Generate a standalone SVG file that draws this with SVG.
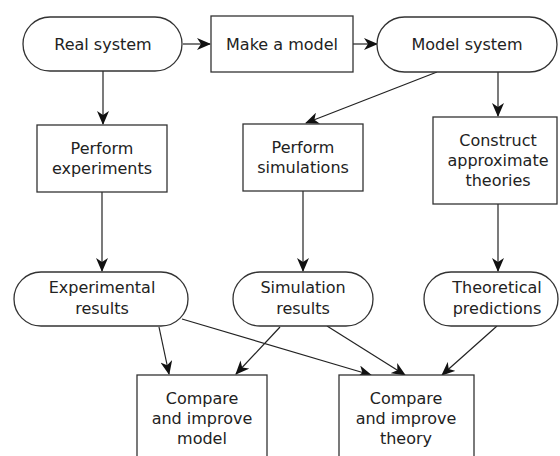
<svg xmlns="http://www.w3.org/2000/svg" width="560" height="456" viewBox="0 0 560 456">
<defs>
<marker id="ah" viewBox="0 0 14 12" refX="13" refY="6" markerWidth="14" markerHeight="12" markerUnits="userSpaceOnUse" orient="auto">
<path d="M0,0 L14,6 L0,12 L4,6 z" fill="#111"/>
</marker>
<style>
.n{fill:#fff;stroke:#333;stroke-width:1.3}
.t{font-family:"DejaVu Sans",sans-serif;font-size:16px;fill:#222;text-anchor:middle}
.c{fill:none;stroke:#222;stroke-width:1.2;marker-end:url(#ah)}
</style>
</defs>
<rect width="560" height="456" fill="#fff"/>
<g id="connectors">
<line class="c" x1="183" y1="44" x2="210" y2="44"/>
<line class="c" x1="353" y1="44" x2="377" y2="44"/>
<line class="c" x1="103" y1="71" x2="103" y2="124"/>
<line class="c" x1="437" y1="72" x2="306" y2="123"/>
<line class="c" x1="498" y1="72" x2="498" y2="116"/>
<line class="c" x1="102" y1="192" x2="102" y2="271"/>
<line class="c" x1="303" y1="191" x2="303" y2="271"/>
<line class="c" x1="498" y1="204" x2="498" y2="271"/>
<line class="c" x1="159" y1="327" x2="169" y2="374"/>
<line class="c" x1="280" y1="327" x2="236" y2="374"/>
<line class="c" x1="182" y1="319" x2="371" y2="375"/>
<line class="c" x1="327" y1="326" x2="405" y2="375"/>
<line class="c" x1="497" y1="326" x2="442" y2="375"/>
</g>
<g id="real-system">
<rect class="n" x="23" y="17" width="159" height="54" rx="27"/>
<text class="t" x="103" y="50">Real system</text>
</g>
<g id="make-model">
<rect class="n" x="211" y="16" width="142" height="56"/>
<text class="t" x="282" y="50">Make a model</text>
</g>
<g id="model-system">
<rect class="n" x="377" y="17" width="180" height="55" rx="27.5"/>
<text class="t" x="467" y="50">Model system</text>
</g>
<g id="perform-experiments">
<rect class="n" x="37" y="125" width="130" height="67"/>
<text class="t" x="102" y="154">Perform</text>
<text class="t" x="102" y="174">experiments</text>
</g>
<g id="perform-simulations">
<rect class="n" x="243" y="124" width="120" height="67"/>
<text class="t" x="303" y="153">Perform</text>
<text class="t" x="303" y="173">simulations</text>
</g>
<g id="construct-theories">
<rect class="n" x="433" y="117" width="124" height="87"/>
<text class="t" x="498" y="146">Construct</text>
<text class="t" x="498" y="166">approximate</text>
<text class="t" x="498" y="186">theories</text>
</g>
<g id="experimental-results">
<rect class="n" x="14" y="272" width="174" height="54" rx="27"/>
<text class="t" x="102" y="293">Experimental</text>
<text class="t" x="102" y="314">results</text>
</g>
<g id="simulation-results">
<rect class="n" x="233" y="272" width="140" height="54" rx="27"/>
<text class="t" x="303" y="293">Simulation</text>
<text class="t" x="303" y="314">results</text>
</g>
<g id="theoretical-predictions">
<rect class="n" x="424" y="272" width="134" height="54" rx="27"/>
<text class="t" x="497" y="293">Theoretical</text>
<text class="t" x="497" y="314">predictions</text>
</g>
<g id="compare-model">
<rect class="n" x="137" y="375" width="130" height="90"/>
<text class="t" x="202" y="404">Compare</text>
<text class="t" x="202" y="424">and improve</text>
<text class="t" x="202" y="444">model</text>
</g>
<g id="compare-theory">
<rect class="n" x="339" y="375" width="135" height="90"/>
<text class="t" x="406" y="404">Compare</text>
<text class="t" x="406" y="424">and improve</text>
<text class="t" x="406" y="444">theory</text>
</g>
</svg>
